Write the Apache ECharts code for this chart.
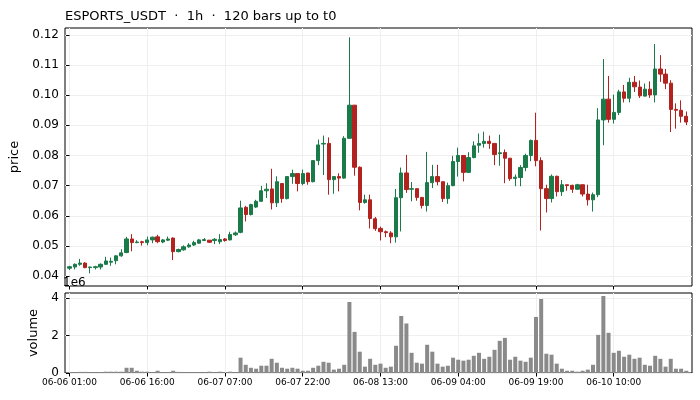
<!doctype html>
<html lang="en">
<head>
    <meta charset="utf-8">
    <title>ESPORTS_USDT</title>
    <script src="https://cdn.jsdelivr.net/npm/echarts@6/dist/echarts.min.js"></script>
    <style>
        * { margin: 0; padding: 0 }
        html, body { width: 100%; height: 100%; background: #fff; }
        #main { width: 700px; height: 400px; }
    </style>
</head>
<body>
<div id="main"></div>
<script type="text/javascript">
    // hourly bars, first bar = 06-06 01:00
    var startDay = 6, startHour = 1;

    var opens = [
        0.0426, 0.0430, 0.0439, 0.0443, 0.0428, 0.0428, 0.0430, 0.0439, 0.0446, 0.0451,
        0.0467, 0.0478, 0.0523, 0.0511, 0.0514, 0.0511, 0.0520, 0.0530, 0.0513, 0.0519,
        0.0526, 0.0481, 0.0487, 0.0497, 0.0503, 0.0509, 0.0518, 0.0519, 0.0518, 0.0514,
        0.0523, 0.0520, 0.0537, 0.0545, 0.0628, 0.0604, 0.0629, 0.0648, 0.0683, 0.0689,
        0.0643, 0.0707, 0.0657, 0.0730, 0.0740, 0.0707, 0.0742, 0.0713, 0.0783, 0.0838,
        0.0840, 0.0720, 0.0730, 0.0725, 0.0857, 0.0967, 0.0761, 0.0644, 0.0653, 0.0590,
        0.0558, 0.0547, 0.0543, 0.0530, 0.0660, 0.0742, 0.0688, 0.0690, 0.0661, 0.0634,
        0.0710, 0.0730, 0.0713, 0.0657, 0.0700, 0.0780, 0.0800, 0.0744, 0.0793, 0.0834,
        0.0840, 0.0847, 0.0840, 0.0806, 0.0810, 0.0791, 0.0724, 0.0727, 0.0760, 0.0800,
        0.0850, 0.0783, 0.0690, 0.0657, 0.0731, 0.0680, 0.0703, 0.0701, 0.0688, 0.0703,
        0.0672, 0.0653, 0.0670, 0.0918, 0.0987, 0.0920, 0.0943, 0.1011, 0.0990, 0.1043,
        0.1027, 0.0997, 0.1020, 0.1001, 0.1087, 0.1070, 0.1040, 0.0953, 0.0950, 0.0930
    ];
    var closes = [
        0.0431, 0.0439, 0.0443, 0.0428, 0.0430, 0.0431, 0.0439, 0.0450, 0.0449, 0.0467,
        0.0477, 0.0523, 0.0511, 0.0513, 0.0511, 0.0520, 0.0529, 0.0514, 0.0520, 0.0523,
        0.0481, 0.0488, 0.0497, 0.0503, 0.0511, 0.0520, 0.0521, 0.0512, 0.0522, 0.0521,
        0.0518, 0.0538, 0.0543, 0.0626, 0.0604, 0.0637, 0.0648, 0.0683, 0.0688, 0.0643,
        0.0713, 0.0657, 0.0730, 0.0740, 0.0707, 0.0740, 0.0713, 0.0783, 0.0835, 0.0840,
        0.0720, 0.0730, 0.0725, 0.0857, 0.0967, 0.0761, 0.0644, 0.0653, 0.0591, 0.0557,
        0.0547, 0.0544, 0.0530, 0.0660, 0.0742, 0.0687, 0.0690, 0.0661, 0.0634, 0.0710,
        0.0730, 0.0713, 0.0657, 0.0700, 0.0780, 0.0800, 0.0744, 0.0793, 0.0832, 0.0840,
        0.0847, 0.0840, 0.0803, 0.0809, 0.0791, 0.0723, 0.0728, 0.0760, 0.0800, 0.0850,
        0.0783, 0.0690, 0.0657, 0.0731, 0.0680, 0.0703, 0.0700, 0.0688, 0.0703, 0.0672,
        0.0653, 0.0670, 0.0918, 0.0987, 0.0920, 0.0943, 0.1011, 0.0990, 0.1043, 0.1028,
        0.0998, 0.1020, 0.1001, 0.1087, 0.1070, 0.1040, 0.0953, 0.0950, 0.0930, 0.0911
    ];
    var highs = [
        0.0434, 0.0442, 0.0457, 0.0446, 0.0431, 0.0434, 0.0442, 0.0464, 0.0461, 0.0469,
        0.0489, 0.0530, 0.0539, 0.0519, 0.0517, 0.0531, 0.0531, 0.0537, 0.0523, 0.0531,
        0.0528, 0.0491, 0.0502, 0.0509, 0.0517, 0.0523, 0.0526, 0.0519, 0.0526, 0.0539,
        0.0526, 0.0547, 0.0548, 0.0650, 0.0633, 0.0640, 0.0653, 0.0699, 0.0708, 0.0756,
        0.0731, 0.0707, 0.0731, 0.0753, 0.0740, 0.0753, 0.0742, 0.0783, 0.0853, 0.0866,
        0.0860, 0.0730, 0.0741, 0.0864, 0.1192, 0.0967, 0.0764, 0.0670, 0.0670, 0.0596,
        0.0564, 0.0551, 0.0549, 0.0689, 0.0760, 0.0802, 0.0712, 0.0690, 0.0661, 0.0812,
        0.0769, 0.0769, 0.0713, 0.0710, 0.0799, 0.0826, 0.0800, 0.0811, 0.0847, 0.0873,
        0.0879, 0.0866, 0.0840, 0.0869, 0.0820, 0.0791, 0.0737, 0.0768, 0.0806, 0.0853,
        0.0942, 0.0794, 0.0703, 0.0737, 0.0733, 0.0719, 0.0703, 0.0703, 0.0706, 0.0703,
        0.0703, 0.0677, 0.0957, 0.1120, 0.1064, 0.1002, 0.1018, 0.1034, 0.1058, 0.1064,
        0.1049, 0.1039, 0.1046, 0.1170, 0.1133, 0.1087, 0.1050, 0.0973, 0.0983, 0.0946
    ];
    var lows = [
        0.0420, 0.0422, 0.0434, 0.0426, 0.0409, 0.0422, 0.0422, 0.0437, 0.0434, 0.0439,
        0.0464, 0.0476, 0.0482, 0.0509, 0.0501, 0.0502, 0.0509, 0.0509, 0.0509, 0.0516,
        0.0453, 0.0479, 0.0484, 0.0494, 0.0500, 0.0507, 0.0516, 0.0510, 0.0506, 0.0506,
        0.0514, 0.0518, 0.0533, 0.0542, 0.0581, 0.0601, 0.0626, 0.0646, 0.0659, 0.0621,
        0.0629, 0.0643, 0.0654, 0.0706, 0.0681, 0.0701, 0.0703, 0.0711, 0.0768, 0.0735,
        0.0670, 0.0673, 0.0681, 0.0723, 0.0856, 0.0733, 0.0618, 0.0640, 0.0558, 0.0550,
        0.0518, 0.0529, 0.0509, 0.0511, 0.0548, 0.0676, 0.0648, 0.0650, 0.0624, 0.0614,
        0.0692, 0.0701, 0.0646, 0.0640, 0.0698, 0.0730, 0.0714, 0.0742, 0.0791, 0.0809,
        0.0826, 0.0822, 0.0768, 0.0766, 0.0708, 0.0716, 0.0698, 0.0698, 0.0748, 0.0781,
        0.0764, 0.0551, 0.0611, 0.0644, 0.0664, 0.0666, 0.0683, 0.0676, 0.0686, 0.0664,
        0.0634, 0.0614, 0.0662, 0.0834, 0.0909, 0.0906, 0.0934, 0.0976, 0.0976, 0.1011,
        0.0991, 0.0996, 0.0991, 0.0976, 0.1044, 0.1020, 0.0878, 0.0889, 0.0909, 0.0901
    ];
    // volume in millions
    var volumes = [
        0.02, 0.02, 0.06, 0.06, 0.02, 0.02, 0.03, 0.07, 0.07, 0.07,
        0.07, 0.28, 0.28, 0.12, 0.07, 0.07, 0.02, 0.12, 0.02, 0.02,
        0.12, 0.06, 0.01, 0.01, 0.01, 0.02, 0.01, 0.07, 0.02, 0.07,
        0.02, 0.07, 0.02, 0.82, 0.44, 0.28, 0.23, 0.39, 0.39, 0.76,
        0.55, 0.28, 0.23, 0.28, 0.23, 0.12, 0.12, 0.28, 0.39, 0.60,
        0.55, 0.18, 0.23, 0.44, 3.80, 2.20, 1.14, 0.34, 0.76, 0.44,
        0.50, 0.28, 0.34, 1.46, 3.05, 2.65, 1.08, 0.55, 0.50, 1.51,
        1.14, 0.50, 0.34, 0.39, 0.82, 0.71, 0.66, 0.71, 0.92, 1.08,
        0.76, 0.87, 1.24, 1.72, 1.88, 0.71, 0.87, 0.66, 0.60, 0.82,
        3.00, 3.96, 1.03, 0.98, 0.50, 0.23, 0.12, 0.12, 0.07, 0.12,
        0.18, 0.44, 2.04, 4.12, 2.15, 1.08, 1.19, 0.87, 0.98, 0.76,
        0.82, 0.44, 0.39, 0.92, 0.76, 0.34, 0.76, 0.23, 0.23, 0.12
    ];

    var xTicks = [0, 15, 30, 45, 60, 75, 90, 105];
    var priceTicks = [0.04, 0.05, 0.06, 0.07, 0.08, 0.09, 0.10, 0.11, 0.12];
    var volTicks = [0, 2e6, 4e6];

    function pad(n) { return n < 10 ? '0' + n : '' + n; }
    var timeLabels = [];
    for (var i = 0; i < opens.length; i++) {
        var h = startHour + i;
        timeLabels.push('06-' + pad(startDay + Math.floor(h / 24)) + ' ' + pad(h % 24) + ':00');
    }

    var candleData = [], volData = [];
    for (var i = 0; i < opens.length; i++) {
        candleData.push([i, opens[i], closes[i], lows[i], highs[i]]);
        volData.push([i, volumes[i] * 1e6]);
    }

    var UP = '#1a7a4a', DOWN = '#b2221e';
    var FONT = 'DejaVu Sans';
    var gridLine = { show: true, lineStyle: { color: '#efefef', width: 1 } };

    var myChart = echarts.init(document.getElementById('main'));
    var option = {
        animation: false,
        backgroundColor: '#fff',
        textStyle: { fontFamily: FONT },
        title: {
            text: 'ESPORTS_USDT  \u00b7  1h  \u00b7  120 bars up to t0',
            left: 60, top: 5,
            textStyle: { fontFamily: FONT, fontSize: 13, fontWeight: 'normal', color: '#000' }
        },
        graphic: [{
            type: 'text', left: 63, top: 277,
            style: { text: '1e6', font: '12px "DejaVu Sans"', fill: '#000' }
        }],
        grid: [
            { left: 65, top: 28, width: 627, height: 258, show: true, borderColor: '#000', borderWidth: 1, backgroundColor: 'transparent' },
            { left: 65, top: 293, width: 627, height: 80, show: true, borderColor: '#000', borderWidth: 1, backgroundColor: 'transparent' }
        ],
        xAxis: [{
            type: 'value', gridIndex: 0, min: -0.87, max: 120.1,
            axisLine: { show: false },
            axisTick: { show: true, inside: false, length: 3.5, customValues: xTicks, lineStyle: { color: '#000' } },
            axisLabel: { show: false, customValues: xTicks },
            splitLine: gridLine
        }, {
            type: 'value', gridIndex: 1, min: -0.87, max: 120.1,
            axisLine: { show: false },
            axisTick: { show: true, inside: false, length: 3.5, customValues: xTicks, lineStyle: { color: '#000' } },
            axisLabel: {
                show: true, customValues: xTicks, fontSize: 9, color: '#000', margin: 5, fontFamily: FONT,
                formatter: function (v) { return timeLabels[Math.round(v)]; }
            },
            splitLine: gridLine
        }],
        yAxis: [{
            type: 'value', gridIndex: 0, min: 0.0367, max: 0.1223,
            name: 'price', nameLocation: 'middle', nameGap: 42,
            nameTextStyle: { fontSize: 13, color: '#000', fontFamily: FONT },
            axisLine: { show: false },
            axisTick: { show: true, inside: false, length: 3.5, customValues: priceTicks, lineStyle: { color: '#000' } },
            axisLabel: {
                customValues: priceTicks, fontSize: 12, color: '#000', margin: 6, fontFamily: FONT,
                formatter: function (v) { return v.toFixed(2); }
            },
            splitLine: gridLine
        }, {
            type: 'value', gridIndex: 1, min: 0, max: 4.28e6,
            name: 'volume', nameLocation: 'middle', nameGap: 23,
            nameTextStyle: { fontSize: 13, color: '#000', fontFamily: FONT },
            axisLine: { show: false },
            axisTick: { show: true, inside: false, length: 3.5, customValues: volTicks, lineStyle: { color: '#000' } },
            axisLabel: {
                customValues: volTicks, fontSize: 12, color: '#000', margin: 6, fontFamily: FONT,
                formatter: function (v) { return String(Math.round(v / 1e6)); }
            },
            splitLine: gridLine
        }],
        series: [{
            name: 'price',
            type: 'candlestick',
            xAxisIndex: 0, yAxisIndex: 0,
            barWidth: 3.8,
            encode: { x: 0, y: [1, 2, 3, 4] },
            itemStyle: {
                color: UP, color0: DOWN,
                borderColor: UP, borderColor0: DOWN,
                borderWidth: 1
            },
            data: candleData
        }, {
            name: 'volume',
            type: 'bar',
            xAxisIndex: 1, yAxisIndex: 1,
            barWidth: 4,
            itemStyle: { color: '#8a8a8a' },
            data: volData
        }]
    };
    myChart.setOption(option);
</script>
</body>
</html>
